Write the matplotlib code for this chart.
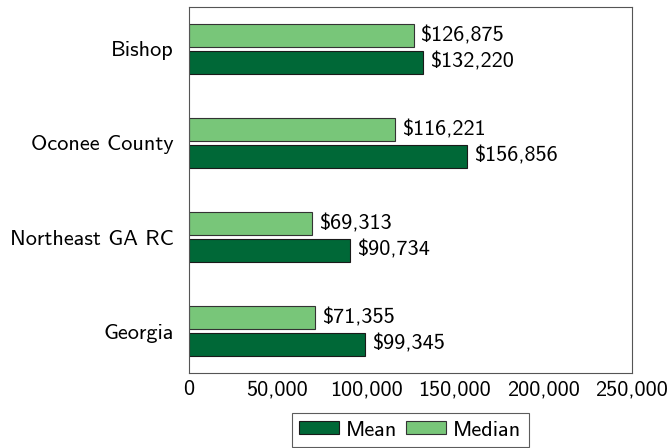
import matplotlib
matplotlib.use("Agg")
import matplotlib.pyplot as plt
import numpy as np

categories = ["Bishop", "Oconee County", "Northeast GA RC", "Georgia"]
mean_vals = [132220, 156856, 90734, 99345]
median_vals = [126875, 116221, 69313, 71355]
xticks = [0, 50000, 100000, 150000, 200000, 250000]

plt.rcParams['font.family'] = ['cmss10', 'DejaVu Sans']
plt.rcParams['axes.formatter.use_mathtext'] = False

FS = 16
fig = plt.figure(figsize=(6.7, 4.48), dpi=100)
ax = fig.add_axes([189/670, 1-373.3/448, 442.5/670, 366.6/448])

y = np.arange(len(categories))
h = 0.245
off = 0.143
dark = "#006837"
light = "#78c679"
ax.barh(y + off, mean_vals, height=h, color=dark, edgecolor="#1a1a1a", linewidth=0.8, label="Mean")
ax.barh(y - off, median_vals, height=h, color=light, edgecolor="#333333", linewidth=0.8, label="Median")

for yi, m, md in zip(y, mean_vals, median_vals):
    ax.annotate("\\${:,}".format(m), (m, yi + off), xytext=(5, 0), textcoords="offset points",
                va="center", ha="left", fontsize=FS)
    ax.annotate("\\${:,}".format(md), (md, yi - off), xytext=(5, 0), textcoords="offset points",
                va="center", ha="left", fontsize=FS)

ax.set_xlim(0, 250000)
ax.set_ylim(3.45, -0.45)
ax.set_yticks(y)
ax.set_yticklabels(categories, fontsize=FS)
ax.set_xticks(xticks)
ax.set_xticklabels(["{:,}".format(v) for v in xticks], fontsize=FS)
ax.tick_params(axis="y", length=0, pad=11)
ax.tick_params(axis="x", length=0, pad=5)
for s in ax.spines.values():
    s.set_color("#555555")
    s.set_linewidth(0.8)

leg = ax.legend(loc="upper center", bbox_to_anchor=(0.5, -0.108), ncol=2, fontsize=FS,
                frameon=True, fancybox=False, edgecolor="#333333",
                handlelength=1.8, handleheight=0.5, handletextpad=0.3, columnspacing=0.4,
                borderpad=0.35, borderaxespad=0)
leg.get_frame().set_linewidth(0.8)

fig.savefig("out.png", dpi=100)
